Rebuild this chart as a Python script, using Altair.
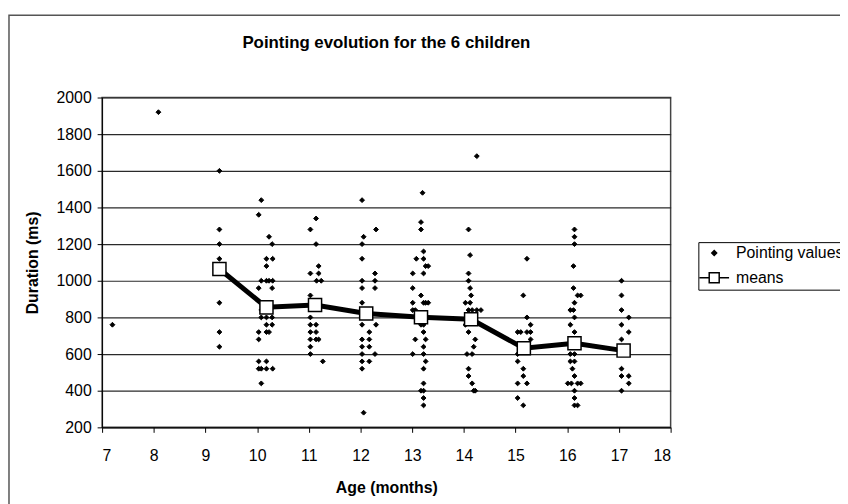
import altair as alt
import pandas as pd

SERIES = ["Pointing values", "means"]

# ---- individual pointing durations (age in months, duration in ms) ----
ages_out = [7.20, 8.09]
durs_out = [760, 1920]

ages_09 = [9.27, 9.27, 9.27, 9.27, 9.27, 9.27, 9.27]
durs_09 = [1600, 1280, 1200, 1120, 880, 720, 640]

ages_10 = [10.08, 10.03, 10.23, 10.29, 10.18, 10.30, 10.18, 10.08, 10.18, 10.23,
           10.30, 10.03, 10.29, 10.08, 10.08, 10.18, 10.29, 10.18, 10.29, 10.03,
           10.18, 10.23, 10.03, 10.03, 10.18, 10.03, 10.08, 10.18, 10.30, 10.08]
durs_10 = [1440, 1360, 1240, 1200, 1120, 1120, 1080, 1000, 1000, 1000,
           1000, 960, 960, 840, 800, 800, 800, 760, 760, 720,
           720, 720, 680, 560, 560, 520, 520, 520, 520, 440]

ages_11 = [11.14, 11.03, 11.14, 11.19, 11.03, 11.19, 11.15, 11.24, 11.03, 11.03,
           11.03, 11.14, 11.03, 11.14, 11.03, 11.14, 11.19, 11.03, 11.03, 11.27]
durs_11 = [1340, 1280, 1200, 1080, 1040, 1040, 1000, 1000, 920, 800,
           760, 760, 720, 720, 680, 680, 680, 640, 600, 560]

ages_12 = [12.03, 12.06, 12.03, 12.30, 12.03, 12.28, 12.03, 12.28, 12.03, 12.28,
           12.03, 12.03, 12.30, 12.03, 12.03, 12.17, 12.17, 12.03, 12.17, 12.03,
           12.28, 12.03, 12.17, 12.03, 12.06]
durs_12 = [1440, 1240, 1200, 1280, 1120, 1040, 1000, 1000, 960, 960,
           880, 800, 760, 760, 680, 720, 680, 640, 640, 600,
           600, 560, 560, 520, 280]

ages_13 = [13.20, 13.17, 13.17, 13.22, 13.08, 13.22, 13.26, 13.31, 13.01, 13.22,
           13.01, 13.17, 13.01, 13.22, 13.26, 13.31, 13.01, 13.06, 13.17, 13.22,
           13.22, 13.06, 13.26, 13.22, 13.01, 13.22, 13.26, 13.22, 13.22, 13.17,
           13.22, 13.22, 13.22]
durs_13 = [1480, 1320, 1280, 1160, 1120, 1120, 1080, 1080, 1040, 1040,
           960, 920, 880, 880, 880, 880, 840, 840, 760, 760,
           720, 680, 680, 640, 600, 600, 560, 520, 440, 400,
           400, 360, 320]

ages_14 = [14.25, 14.09, 14.12, 14.09, 14.09, 14.12, 14.14, 14.03, 14.12, 14.09,
           14.16, 14.25, 14.33, 14.03, 14.09, 14.22, 14.19, 14.06, 14.16, 14.09,
           14.09, 14.16, 14.19, 14.22]
durs_14 = [1680, 1280, 1140, 1040, 1000, 960, 920, 880, 880, 840,
           840, 840, 840, 760, 720, 680, 640, 600, 600, 520,
           480, 440, 400, 400]

ages_15 = [15.22, 15.15, 15.22, 15.04, 15.10, 15.22, 15.29, 15.29, 15.29, 15.04,
           15.04, 15.15, 15.15, 15.04, 15.22, 15.04, 15.15]
durs_15 = [1120, 920, 800, 720, 720, 720, 760, 720, 680, 600,
           560, 520, 480, 440, 440, 360, 320]

ages_16 = [16.14, 16.14, 16.14, 16.12, 16.12, 16.20, 16.26, 16.14, 16.06, 16.12,
           16.14, 16.06, 16.14, 16.06, 16.14, 16.06, 16.14, 16.06, 16.14, 16.10,
           16.14, 16.01, 16.08, 16.20, 16.26, 16.14, 16.14, 16.14, 16.20]
durs_16 = [1280, 1240, 1200, 1080, 960, 920, 920, 880, 840, 840,
           800, 760, 720, 680, 680, 600, 600, 560, 560, 520,
           480, 440, 440, 440, 440, 400, 360, 320, 320]

ages_17 = [17.05, 17.05, 17.05, 17.19, 17.05, 17.19, 17.05, 17.05, 17.05, 17.19,
           17.19, 17.05]
durs_17 = [1000, 920, 840, 800, 760, 720, 680, 520, 480, 480,
           440, 400]

# ---- monthly means ----
mean_ages = [9.27, 10.18, 11.12, 12.11, 13.17, 14.14, 15.16, 16.14, 17.09]
mean_durs = [1064, 855, 868, 821, 801, 790, 632, 659, 619]

# ---- axis ticks ----
x_ticks = [7, 8, 9, 10, 11, 12, 13, 14, 15, 16, 17, 18]
y_ticks = [200, 400, 600, 800, 1000, 1200, 1400, 1600, 1800, 2000]

all_ages = (ages_out + ages_09 + ages_10 + ages_11 + ages_12 + ages_13 +
            ages_14 + ages_15 + ages_16 + ages_17)
all_durs = (durs_out + durs_09 + durs_10 + durs_11 + durs_12 + durs_13 +
            durs_14 + durs_15 + durs_16 + durs_17)

pts = pd.DataFrame({"age": all_ages, "dur": all_durs, "series": SERIES[0]})
means = pd.DataFrame({"age": mean_ages, "dur": mean_durs})

FONT = "Liberation Sans"
x_scale = alt.Scale(domain=[7, 18], nice=False, zero=False)
y_scale = alt.Scale(domain=[200, 2000], nice=False, zero=False)

x_axis = alt.Axis(values=x_ticks, title="Age (months)", grid=False,
                  tickSize=5, tickColor="black", domainColor="black",
                  labelFont=FONT, labelFontSize=16, labelColor="black",
                  labelPadding=15, labelOverlap=False, format="d",
                  titleFont=FONT, titleFontSize=16,
                  titleFontWeight="bold", titleColor="black", titlePadding=17)
y_axis = alt.Axis(values=y_ticks, tickCount=10, title="Duration (ms)",
                  grid=True, gridColor="#2a2a2a", gridWidth=1.2,
                  tickSize=5, tickColor="black", domainColor="black",
                  labelFont=FONT, labelFontSize=16, labelColor="black",
                  labelPadding=6, labelOverlap=False, format="d",
                  titleFont=FONT, titleFontSize=16,
                  titleFontWeight="bold", titleColor="black", titlePadding=16)

X = alt.X("age:Q", scale=x_scale, axis=x_axis)
Y = alt.Y("dur:Q", scale=y_scale, axis=y_axis)

stub = "M-1.25,0H-0.42M0.42,0H1.25M-0.42,-0.42H0.42V0.42H-0.42Z"

border = alt.Chart(pd.DataFrame({"k": [0]})).mark_rect(
    fill="transparent", stroke="#555555", strokeWidth=1.5
).encode(x=alt.value(-94), x2=alt.value(760), y=alt.value(-83), y2=alt.value(430))

scatter = alt.Chart(pts).mark_point(
    filled=True, stroke="black", strokeWidth=1, opacity=1
).encode(
    x=X, y=Y,
    shape=alt.Shape("series:N", scale=alt.Scale(domain=SERIES, range=["diamond", stub]),
                    legend=alt.Legend(title=None)),
    fill=alt.Fill("series:N", scale=alt.Scale(domain=SERIES, range=["black", "white"]),
                  legend=alt.Legend(title=None)),
    size=alt.Size("series:N", scale=alt.Scale(domain=SERIES, range=[24, 576]),
                  legend=alt.Legend(title=None)),
)

line = alt.Chart(means).mark_line(color="black", strokeWidth=5).encode(x=X, y=Y)

squares = alt.Chart(means).mark_point(
    shape="square", filled=True, fill="white", stroke="black", strokeWidth=1.5,
    size=175, opacity=1
).encode(x=X, y=Y)

chart = alt.layer(border, scatter, line, squares).properties(
    width=574, height=333,
    title=alt.Title("Pointing evolution for the 6 children", font=FONT, fontSize=17,
                    fontWeight="bold", color="black", offset=0, dy=38,
                    frame="group"),
    padding={"left": 95, "top": 88, "right": 171, "bottom": 75},
    autosize="none",
).configure_view(stroke="#444444", strokeWidth=1.5).configure_legend(
    orient="none", legendX=602, legendY=146, strokeColor="black",
    fillColor="white", padding=3, labelFont=FONT, labelFontSize=16,
    labelColor="black", rowPadding=4, labelOffset=9, cornerRadius=0,
)

chart.save("out.html", embed_options={"renderer": "svg", "actions": False})
